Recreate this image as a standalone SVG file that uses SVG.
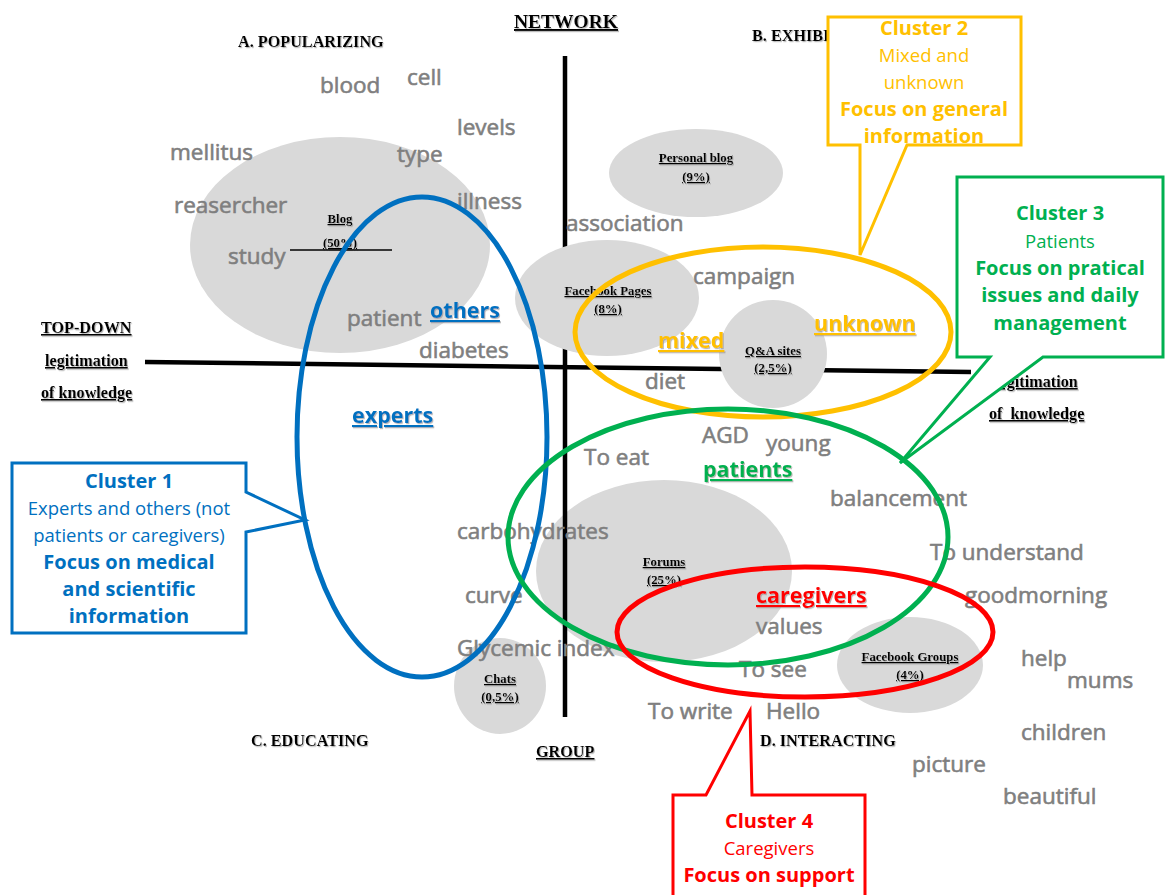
<svg xmlns="http://www.w3.org/2000/svg" width="1165" height="895" viewBox="0 0 1165 895">
  <defs>
    <filter id="soft-shadow" x="-10%" y="-20%" width="120%" height="150%">
      <feDropShadow dx="1" dy="1.2" stdDeviation="0.6" flood-color="#8c8c8c" flood-opacity="0.6"/>
    </filter>
  </defs>
  <style>
    .bg { fill: #ffffff; }
    .site { fill: #d9d9d9; }
    .axis { stroke: #000000; stroke-width: 4.5; fill: none; }
    .quad { font-family: "Liberation Serif", "Times New Roman", serif; font-weight: bold; font-size: 16.2px; fill: #000000; filter: url(#soft-shadow); }
    .axl { font-family: "Liberation Serif", "Times New Roman", serif; font-weight: bold; font-size: 16.2px; fill: #000000; text-decoration: underline; filter: url(#soft-shadow); }
    .slabel { font-family: "Liberation Serif", "Times New Roman", serif; font-weight: bold; font-size: 12.8px; fill: #000000; text-anchor: middle; text-decoration: underline; filter: url(#soft-shadow); }
    .word { font-family: "Open Sans", "DejaVu Sans", sans-serif; font-size: 22.5px; fill: #7f7f7f; stroke: #7f7f7f; stroke-width: 0.6; }
    .key { font-family: "Open Sans", "DejaVu Sans", sans-serif; font-size: 21.5px; font-weight: bold; text-decoration: underline; filter: url(#soft-shadow); }
    .ring { fill: none; stroke-width: 5; }
    .box { fill: #ffffff; stroke-width: 3; stroke-linejoin: miter; }
    .ct { font-family: "Open Sans", "DejaVu Sans", sans-serif; text-anchor: middle; }
    .ctb { font-size: 20px; font-weight: bold; }
    .ctn { font-size: 18.5px; }
    .blue { fill: #0070c0; }
    .yellow { fill: #ffc000; }
    .green { fill: #00b050; }
    .red { fill: #ff0000; }
  </style>

  <rect class="bg" x="0" y="0" width="1165" height="895"/>

  <!-- web sites sized by share (lower layer) -->
  <g id="site-forums">
    <ellipse class="site" cx="664" cy="571" rx="128" ry="91"/>
  </g>
  <g id="site-chats">
    <ellipse class="site" cx="500" cy="686" rx="46" ry="48"/>
  </g>
  <g id="site-blog">
    <ellipse class="site" cx="340" cy="245" rx="150" ry="108"/>
  </g>
  <g id="site-personal-blog">
    <ellipse class="site" cx="696" cy="173" rx="87" ry="44"/>
  </g>
  <g id="site-facebook-groups">
    <ellipse class="site" cx="910" cy="665" rx="73" ry="48"/>
  </g>

  <!-- axes -->
  <g id="axes">
    <line class="axis" x1="565" y1="56" x2="565" y2="717"/>
    <line class="axis" x1="145" y1="362" x2="971" y2="372"/>
  </g>

  <!-- web sites drawn above the axes -->
  <g id="site-facebook-pages">
    <ellipse class="site" cx="607" cy="298" rx="92" ry="58"/>
  </g>
  <g id="site-qa">
    <ellipse class="site" cx="773" cy="354" rx="54" ry="54"/>
  </g>

  <!-- site labels -->
  <g id="site-labels">
    <text class="slabel" x="340" y="223">Blog</text>
    <text class="slabel" x="340" y="247">(50%)</text>
    <line x1="290" y1="250" x2="392" y2="250" stroke="#000000" stroke-width="1.5"/>
    <text class="slabel" x="696" y="162">Personal blog</text>
    <text class="slabel" x="696" y="181">(9%)</text>
    <text class="slabel" x="608" y="295">Facebook Pages</text>
    <text class="slabel" x="608" y="313">(8%)</text>
    <text class="slabel" x="773" y="355">Q&amp;A sites</text>
    <text class="slabel" x="773" y="372">(2,5%)</text>
    <text class="slabel" x="664" y="566">Forums</text>
    <text class="slabel" x="664" y="584">(25%)</text>
    <text class="slabel" x="500" y="683">Chats</text>
    <text class="slabel" x="500" y="701">(0,5%)</text>
    <text class="slabel" x="910" y="661">Facebook Groups</text>
    <text class="slabel" x="910" y="679">(4%)</text>
  </g>

  <!-- quadrant and axis titles -->
  <g id="axis-titles">
    <text class="quad" x="238" y="47">A. POPULARIZING</text>
    <text class="quad" x="752" y="41">B. EXHIBITING</text>
    <text class="quad" x="251" y="746">C. EDUCATING</text>
    <text class="quad" x="760" y="746">D. INTERACTING</text>
    <text class="axl" x="514" y="28" style="font-size:19.5px">NETWORK</text>
    <text class="axl" x="536" y="757">GROUP</text>
    <text class="axl" x="41" y="333">TOP-DOWN</text>
    <text class="axl" x="45" y="366">legitimation</text>
    <text class="axl" x="41" y="398">of knowledge</text>
    <text class="axl" x="995" y="387">legitimation</text>
    <text class="axl" x="989" y="419" xml:space="preserve">of  knowledge</text>
  </g>

  <!-- vocabulary -->
  <g id="words">
    <text class="word" x="320" y="93">blood</text>
    <text class="word" x="407" y="85">cell</text>
    <text class="word" x="457" y="135">levels</text>
    <text class="word" x="170" y="160">mellitus</text>
    <text class="word" x="397" y="162">type</text>
    <text class="word" x="174" y="213">reasercher</text>
    <text class="word" x="457" y="209">illness</text>
    <text class="word" x="228" y="264">study</text>
    <text class="word" x="566" y="231">association</text>
    <text class="word" x="693" y="284">campaign</text>
    <text class="word" x="347" y="326">patient</text>
    <text class="word" x="419" y="358">diabetes</text>
    <text class="word" x="645" y="389">diet</text>
    <text class="word" x="702" y="443">AGD</text>
    <text class="word" x="766" y="451">young</text>
    <text class="word" x="584" y="465">To eat</text>
    <text class="word" x="830" y="506">balancement</text>
    <text class="word" x="930" y="560">To understand</text>
    <text class="word" x="457" y="539">carbohydrates</text>
    <text class="word" x="965" y="603">goodmorning</text>
    <text class="word" x="465" y="603">curve</text>
    <text class="word" x="756" y="634">values</text>
    <text class="word" x="457" y="656">Glycemic index</text>
    <text class="word" x="739" y="677">To see</text>
    <text class="word" x="1021" y="666">help</text>
    <text class="word" x="1067" y="688">mums</text>
    <text class="word" x="648" y="719">To write</text>
    <text class="word" x="766" y="719">Hello</text>
    <text class="word" x="1021" y="740">children</text>
    <text class="word" x="912" y="772">picture</text>
    <text class="word" x="1003" y="804">beautiful</text>
  </g>

  <!-- author categories -->
  <g id="categories">
    <text class="key blue" x="430" y="318">others</text>
    <text class="key blue" x="352" y="423">experts</text>
    <text class="key yellow" x="658" y="348">mixed</text>
    <text class="key yellow" x="814" y="331">unknown</text>
    <text class="key green" x="703" y="477">patients</text>
    <text class="key red" x="756" y="603">caregivers</text>
  </g>

  <!-- cluster outlines -->
  <g id="cluster-rings">
    <ellipse class="ring" cx="422" cy="437" rx="125" ry="240" stroke="#0070c0"/>
    <ellipse class="ring" cx="763" cy="332" rx="188" ry="85" stroke="#ffc000"/>
    <ellipse class="ring" cx="728" cy="537" rx="220" ry="128" stroke="#00b050"/>
    <ellipse class="ring" cx="805" cy="632" rx="188" ry="65" stroke="#ff0000"/>
  </g>

  <!-- cluster callouts -->
  <g id="callout-1">
    <path class="box" stroke="#0070c0" d="M12,463 L246,463 L246,492 L305,520 L246,532 L246,633 L12,633 Z"/>
    <text class="ct ctb blue" x="129" y="488">Cluster 1</text>
    <text class="ct ctn blue" x="129" y="515">Experts and others (not</text>
    <text class="ct ctn blue" x="129" y="542">patients or caregivers)</text>
    <text class="ct ctb blue" x="129" y="569">Focus on medical</text>
    <text class="ct ctb blue" x="129" y="596">and scientific</text>
    <text class="ct ctb blue" x="129" y="623">information</text>
  </g>
  <g id="callout-2">
    <path class="box" stroke="#ffc000" d="M828,17 L1021,17 L1021,145 L907,145 L860,255 L860,145 L828,145 Z"/>
    <text class="ct ctb yellow" x="924" y="35">Cluster 2</text>
    <text class="ct ctn yellow" x="924" y="62">Mixed and</text>
    <text class="ct ctn yellow" x="924" y="89">unknown</text>
    <text class="ct ctb yellow" x="924" y="116">Focus on general</text>
    <text class="ct ctb yellow" x="924" y="143">information</text>
  </g>
  <g id="callout-3">
    <path class="box" stroke="#00b050" d="M957,177 L1163,177 L1163,357 L1043,357 L900,463 L990,357 L957,357 Z"/>
    <text class="ct ctb green" x="1060" y="220">Cluster 3</text>
    <text class="ct ctn green" x="1060" y="248">Patients</text>
    <text class="ct ctb green" x="1060" y="275">Focus on pratical</text>
    <text class="ct ctb green" x="1060" y="302">issues and daily</text>
    <text class="ct ctb green" x="1060" y="330">management</text>
  </g>
  <g id="callout-4">
    <path class="box" stroke="#ff0000" d="M673,795 L706,795 L750,711 L752,795 L865,795 L865,900 L673,900 Z"/>
    <text class="ct ctb red" x="769" y="828">Cluster 4</text>
    <text class="ct ctn red" x="769" y="855">Caregivers</text>
    <text class="ct ctb red" x="769" y="882">Focus on support</text>
  </g>
</svg>
